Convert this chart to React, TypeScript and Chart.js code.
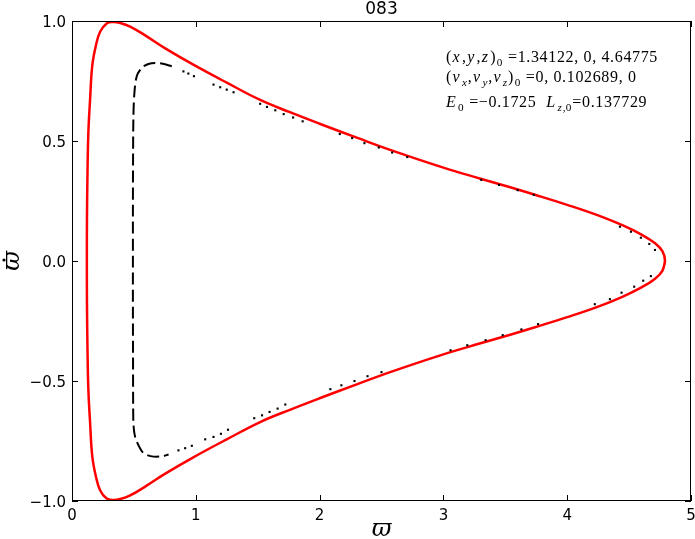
import React, { useEffect, useRef } from "react";
import { Chart, registerables } from "chart.js";

Chart.register(...registerables);

const TITLE = "083";
const X_TICKS = [0, 1, 2, 3, 4, 5];
const X_TICK_LABELS = ["0", "1", "2", "3", "4", "5"];
const Y_TICKS = [-1, -0.5, 0, 0.5, 1];
const Y_TICK_LABELS = ["\u22121.0", "\u22120.5", "0.0", "0.5", "1.0"];

// red boundary curve (upper half right->left, then lower half left->right)
const RED_X = [
  4.77, 4.79, 4.77, 4.71, 4.6, 4.45, 4.25, 4.0, 3.74, 3.54, 3.3, 3.0, 2.57, 2.3, 2.0, 1.76, 1.52, 1.25, 0.98, 0.75,
  0.6, 0.47, 0.39, 0.33, 0.28, 0.227, 0.194, 0.164, 0.146, 0.132, 0.125, 0.121, 0.12,
  0.121, 0.125, 0.132, 0.146, 0.164, 0.194, 0.227, 0.28, 0.33, 0.39, 0.47, 0.6, 0.75, 0.98, 1.25, 1.52, 1.76,
  2.0, 2.3, 2.57, 3.0, 3.3, 3.54, 3.74, 4.0, 4.25, 4.45, 4.6, 4.71, 4.77, 4.79,
];
const RED_Y = [
  -0.04, 0, 0.04, 0.074, 0.11, 0.148, 0.19, 0.234, 0.276, 0.307, 0.343, 0.389, 0.463, 0.514, 0.572, 0.62, 0.671,
  0.743, 0.818, 0.887, 0.937, 0.977, 0.992, 0.996, 0.99, 0.955, 0.9, 0.815, 0.672, 0.533, 0.36, 0.18, 0,
  -0.18, -0.36, -0.533, -0.672, -0.815, -0.9, -0.955, -0.99, -0.996, -0.992, -0.977, -0.937, -0.887, -0.818,
  -0.743, -0.671, -0.62, -0.572, -0.514, -0.463, -0.389, -0.343, -0.307, -0.276, -0.234, -0.19, -0.148, -0.11,
  -0.074, -0.04, 0,
];

// dense part of the orbit section (drawn as dashed black)
const DENSE_X = [
  0.806, 0.766, 0.685, 0.617, 0.564, 0.523, 0.504, 0.496, 0.493, 0.492, 0.492, 0.492, 0.493, 0.494, 0.497, 0.51,
  0.537, 0.577, 0.645, 0.726, 0.78,
];
const DENSE_Y = [
  0.811, 0.818, 0.825, 0.821, 0.805, 0.77, 0.7, 0.6, 0.4, 0.2, 0, -0.2, -0.4, -0.6, -0.685, -0.733, -0.768, -0.8,
  -0.814, -0.814, -0.806,
];

// sparse orbit section points
const DOT_X = [
  0.9, 0.94, 0.985, 1.143, 1.197, 1.25, 1.305, 1.52, 1.575, 1.642, 1.71, 1.786, 1.863, 2.163, 2.263, 2.362, 2.478,
  2.586, 2.708, 3.306, 3.449, 3.6, 3.73, 4.426, 4.515, 4.595, 4.663, 4.709,
  0.86, 0.914, 0.968, 1.076, 1.143, 1.203, 1.26, 1.472, 1.535, 1.596, 1.661, 1.723, 2.087, 2.176, 2.282, 2.387, 2.5,
  3.058, 3.193, 3.341, 3.479, 3.63, 3.765, 4.223, 4.345, 4.439, 4.541, 4.614, 4.676,
];
const DOT_Y = [
  0.79, 0.781, 0.77, 0.735, 0.724, 0.714, 0.703, 0.655, 0.642, 0.628, 0.612, 0.598, 0.582, 0.529, 0.512, 0.491,
  0.473, 0.452, 0.433, 0.338, 0.317, 0.295, 0.276, 0.143, 0.122, 0.097, 0.071, 0.046,
  -0.789, -0.78, -0.77, -0.743, -0.733, -0.72, -0.703, -0.655, -0.643, -0.629, -0.615, -0.598, -0.534, -0.518, -0.5,
  -0.48, -0.463, -0.372, -0.351, -0.33, -0.309, -0.285, -0.263, -0.18, -0.159, -0.132, -0.107, -0.082, -0.063,
];

type Seg = [string, string];
const ANNOT: Seg[][] = [
  [["(", "n"], ["x", "i"], [",", "n"], ["y", "i"], [",", "n"], ["z", "i"], [")", "n"], ["0", "s"], [" =1.34122, 0, 4.64775", "n"]],
  [["(", "n"], ["v", "i"], ["x", "si"], [",", "n"], ["v", "i"], ["y", "si"], [",", "n"], ["v", "i"], ["z", "si"], [")", "n"], ["0", "s"], [" =0, 0.102689, 0", "n"]],
  [["E", "i"], ["0", "s"], [" =\u22120.1725  ", "n"], ["L", "i"], ["z", "si"], [",0", "s"], ["=0.137729", "n"]],
];
const ANNOT_BASELINES = [62, 82, 107];

const zip = (xs: number[], ys: number[]) => xs.map((x, i) => ({ x, y: ys[i] }));

const SERIF = '"Liberation Serif", "DejaVu Serif", serif';
const SANS = '"DejaVu Sans", sans-serif';

function drawRich(ctx: CanvasRenderingContext2D, x0: number, base: number, segs: Seg[], size: number) {
  let x = x0;
  const c: any = ctx;
  for (const [t, st] of segs) {
    const sub = st === "s" || st === "si";
    const ital = st === "i" || st === "si";
    const fs = sub ? size * 0.7 : size;
    ctx.font = `${ital ? "italic " : ""}${fs}px ${SERIF}`;
    c.letterSpacing = sub ? "0.3px" : "0.65px";
    ctx.fillText(t, x, base + (sub ? size * 0.22 : 0));
    x += ctx.measureText(t).width + (ital && !sub ? 1.6 : 0.6);
  }
  c.letterSpacing = "0px";
}

const decor = {
  id: "decor",
  afterDatasetsDraw(chart: any) {
    const { ctx, chartArea: a, scales } = chart;
    const xs = scales.x;
    const ys = scales.y;
    ctx.save();
    ctx.strokeStyle = "#000";
    ctx.fillStyle = "#000";
    ctx.lineWidth = 1;
    ctx.strokeRect(a.left + 0.5, a.top + 0.5, a.width - 1, a.height - 1);
    // ticks
    ctx.beginPath();
    X_TICKS.forEach((v) => {
      const px = Math.round(xs.getPixelForValue(v)) + 0.5;
      ctx.moveTo(px, a.bottom);
      ctx.lineTo(px, a.bottom - 6);
      ctx.moveTo(px, a.top);
      ctx.lineTo(px, a.top + 6);
    });
    Y_TICKS.forEach((v) => {
      const py = Math.round(ys.getPixelForValue(v)) + 0.5;
      ctx.moveTo(a.left, py);
      ctx.lineTo(a.left + 6, py);
      ctx.moveTo(a.right, py);
      ctx.lineTo(a.right - 6, py);
    });
    ctx.stroke();
    // tick labels
    ctx.font = `15px ${SANS}`;
    ctx.textAlign = "center";
    ctx.textBaseline = "alphabetic";
    X_TICKS.forEach((v, i) => {
      ctx.fillText(X_TICK_LABELS[i], xs.getPixelForValue(v), a.bottom + 19);
    });
    ctx.textAlign = "right";
    Y_TICKS.forEach((v, i) => {
      ctx.fillText(Y_TICK_LABELS[i], a.left - 6, ys.getPixelForValue(v) + 5.5);
    });
    // title
    ctx.textAlign = "center";
    ctx.font = `17px ${SANS}`;
    ctx.fillText(TITLE, (a.left + a.right) / 2, 14);
    // x label
    ctx.font = `italic 24px "DejaVu Serif", serif`;
    ctx.fillText("\u03D6", (a.left + a.right) / 2, 536);
    // y label (rotated) with dot
    ctx.save();
    ctx.translate(19, (a.top + a.bottom) / 2);
    ctx.rotate(-Math.PI / 2);
    ctx.fillText("\u03D6", 0, 0);
    ctx.beginPath();
    ctx.arc(1, -15, 1.6, 0, Math.PI * 2);
    ctx.fill();
    ctx.restore();
    // annotation
    ctx.textAlign = "left";
    ANNOT.forEach((segs, i) => drawRich(ctx, 446, ANNOT_BASELINES[i], segs, 16));
    ctx.restore();
  },
};

export default function App() {
  const ref = useRef<HTMLCanvasElement>(null);
  useEffect(() => {
    document.body.style.margin = "0";
    const chart = new Chart(ref.current as HTMLCanvasElement, {
      type: "scatter",
      data: {
        datasets: [
          {
            data: zip(DOT_X, DOT_Y),
            showLine: false,
            pointStyle: "rect",
            pointRadius: 1.5,
            backgroundColor: "#000",
            borderWidth: 0,
          },
          {
            data: zip(DENSE_X, DENSE_Y),
            showLine: true,
            borderColor: "#000",
            borderWidth: 2,
            borderDash: [12, 5],
            pointRadius: 0,
            tension: 0.3,
          },
          {
            data: zip(RED_X, RED_Y),
            showLine: true,
            borderColor: "#ff0000",
            borderWidth: 2.5,
            pointRadius: 0,
            tension: 0.4,
          },
        ],
      } as any,
      options: {
        responsive: false,
        animation: false,
        events: [],
        layout: { padding: { left: 72, right: 4, top: 21, bottom: 38 } },
        scales: {
          x: { type: "linear", min: 0, max: 5, display: false },
          y: { type: "linear", min: -1, max: 1, display: false },
        },
        plugins: { legend: { display: false }, tooltip: { enabled: false } },
      },
      plugins: [decor],
    });
    return () => chart.destroy();
  }, []);
  return (
    <div style={{ position: "fixed", left: 0, top: 0, width: 695, height: 539, background: "#fff" }}>
      <canvas ref={ref} width={695} height={539} style={{ width: 695, height: 539, display: "block" }} />
    </div>
  );
}
